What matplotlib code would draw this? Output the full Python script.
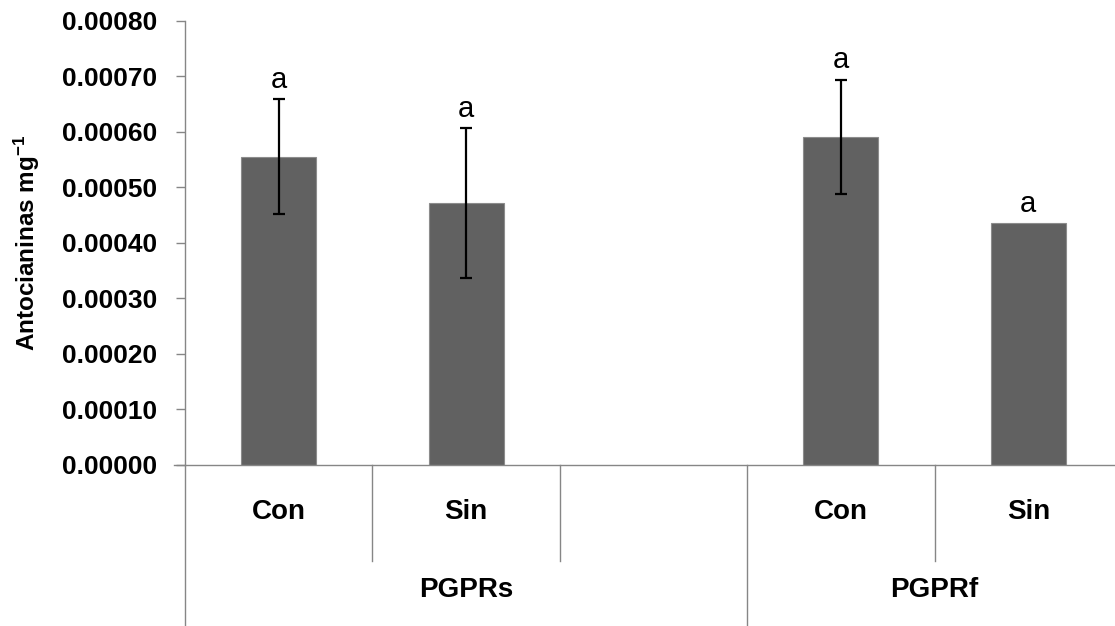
import matplotlib
matplotlib.use('Agg')
import matplotlib.pyplot as plt
import matplotlib.transforms as mtransforms
from matplotlib import font_manager

# data
categories = ['Con', 'Sin', '', 'Con', 'Sin']
values = [0.000555, 0.000472, None, 0.000591, 0.000436]
errors = [0.000103, 0.000135, None, 0.000103, 0.0]
letters = ['a', 'a', '', 'a', 'a']
groups = ['PGPRs', 'PGPRf']
group_spans = [(0, 2), (3, 4)]
yticks = [0.0, 0.0001, 0.0002, 0.0003, 0.0004, 0.0005, 0.0006, 0.0007, 0.0008]

names = {f.name for f in font_manager.fontManager.ttflist}
narrow = 'Liberation Sans Narrow' if 'Liberation Sans Narrow' in names else 'Liberation Sans'
plt.rcParams['font.family'] = ['Liberation Sans', 'DejaVu Sans']
plt.rcParams['mathtext.default'] = 'regular'

fig = plt.figure(figsize=(11.15, 6.26), dpi=100)
W, H = 1115, 626
left, right, top, bottom = 185, 1122, 20.7, 464.5
ax = fig.add_axes([left / W, (H - bottom) / H, (right - left) / W, (bottom - top) / H])

xs = [i for i, v in enumerate(values) if v is not None]
vals = [values[i] for i in xs]
errs = [errors[i] for i in xs]
ax.bar(xs, vals, width=0.4, color='#616161', edgecolor='#8c8c8c', linewidth=0.8, zorder=2)
for x, v, e in zip(xs, vals, errs):
    if e > 0:
        ax.errorbar(x, v, yerr=e, fmt='none', ecolor='black', elinewidth=1.6,
                    capsize=4, capthick=1.6, zorder=3)
    ax.text(x, v + e + 0.00002, letters[x], ha='center', va='baseline',
            fontsize=21, family=[narrow, 'DejaVu Sans'])

ax.set_xlim(-0.5, len(categories) - 0.5)
ax.set_ylim(0, 0.0008)
ax.set_yticks(yticks)
ax.set_yticklabels(['{:.5f}'.format(t) for t in yticks], fontsize=19, fontweight='bold')
ax.tick_params(axis='y', length=6.5, width=1, color='#868686', pad=13.5)
ax.set_xticks([])

for s in ['top', 'right']:
    ax.spines[s].set_visible(False)
for s in ['left', 'bottom']:
    ax.spines[s].set_color('#868686')
    ax.spines[s].set_linewidth(1)
ax.spines['bottom'].set_bounds(-0.56, len(categories) - 0.5)
ax.spines['bottom'].set_zorder(4)

trans = mtransforms.blended_transform_factory(ax.transData, ax.transAxes)
# category labels and short separators
for i, c in enumerate(categories):
    ax.text(i, -0.107, c, transform=trans, ha='center', va='center',
            fontsize=20, fontweight='bold', family=[narrow, 'DejaVu Sans'])
for i in range(len(categories) + 1):
    xb = i - 0.5
    long_line = any(xb == a - 0.5 for a, b in group_spans) or xb == len(categories) - 0.5
    y_end = -0.37 if long_line else -0.2175
    ax.plot([xb, xb], [0, y_end], transform=trans, color='#868686', lw=1, clip_on=False)
# group labels
for g, (a, b) in zip(groups, group_spans):
    ax.text((a + b) / 2, -0.283, g, transform=trans, ha='center', va='center',
            fontsize=20, fontweight='bold', family=[narrow, 'DejaVu Sans'])

ax.set_ylabel('Antocianinas mg$^{-1}$', fontsize=17.5, fontweight='bold',
              family=[narrow, 'DejaVu Sans'], va='center')
ax.yaxis.set_label_coords((27 - left) / (right - left), 0.5)

plt.savefig('out.png', dpi=100)
